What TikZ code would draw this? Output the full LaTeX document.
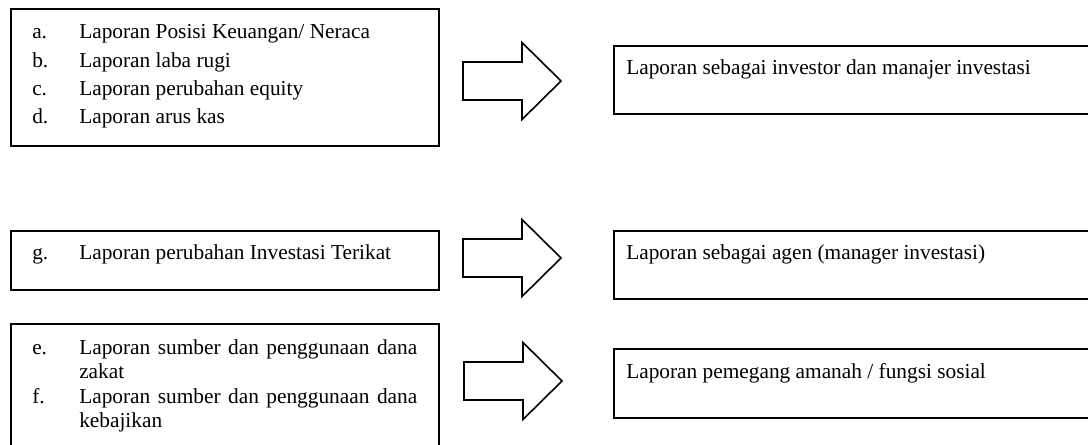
\documentclass[tikz,border=0pt]{standalone}
\usepackage{fontspec}
\setmainfont{Liberation Serif}
\newcommand{\listitem}[2]{\noindent\hangindent=35.25pt\hangafter=1\makebox[35.25pt][l]{#1}#2\par}

\begin{document}
\begin{tikzpicture}[
  x=0.75pt, y=-0.75pt,
  font=\fontsize{16}{21.2}\selectfont,
  panel/.style 2 args={draw, line width=1.8pt, inner sep=0pt, anchor=north west,
                       minimum width=#1*0.75pt, minimum height=#2*0.75pt},
  txt/.style={inner sep=0pt, anchor=base west},
  blockarrow/.pic={
    \draw[line width=1.2pt, line join=miter]
      (0,-19) -- (59,-19) -- (59,-38.5) -- (98,0) -- (59,38.5) -- (59,19) -- (0,19) -- cycle;
  },
]
\useasboundingbox (0,0) rectangle (1088,445);
\clip (0,0) rectangle (1088,445);

% ------------------------------------------------------------ left: reports
\node[panel={428}{137}] (fin) at (10,8) {};
\node[txt] (finlist) at (32,39) {\parbox[t]{288.75pt}{%
  \listitem{a.}{Laporan Posisi Keuangan/ Neraca}
  \listitem{b.}{Laporan laba rugi}
  \listitem{c.}{Laporan perubahan equity}
  \listitem{d.}{Laporan arus kas}}};

\node[panel={428}{59}] (inv) at (10,230) {};
\node[txt] (invlist) at (32,260) {\parbox[t]{288.75pt}{%
  \listitem{g.}{Laporan perubahan Investasi Terikat}}};

\node[panel={428}{160}] (zis) at (10,323) {};
\node[txt, font=\fontsize{16}{18.4}\selectfont] (zislist) at (32,354) {\parbox[t]{288.75pt}{%
  \listitem{e.}{Laporan sumber dan penggunaan dana zakat}
  \listitem{f.}{Laporan sumber dan penggunaan dana kebajikan}}};

% ------------------------------------------------------------ arrows
\coordinate (arr1) at (463,81);
\coordinate (arr2) at (463,258);
\coordinate (arr3) at (464,381);
\pic at (arr1) {blockarrow};
\pic at (arr2) {blockarrow};
\pic at (arr3) {blockarrow};

% ------------------------------------------------------------ right: roles
\node[panel={520}{68}] (investor) at (613,45) {};
\node[txt] (investortxt) at (626,75) {Laporan sebagai investor dan manajer investasi};

\node[panel={520}{68}] (agen) at (613,230) {};
\node[txt] (agentxt) at (626,260) {Laporan sebagai agen (manager investasi)};

\node[panel={520}{69}] (amanah) at (613,348) {};
\node[txt] (amanahtxt) at (626,378) {Laporan pemegang amanah / fungsi sosial};

\end{tikzpicture}
\end{document}
